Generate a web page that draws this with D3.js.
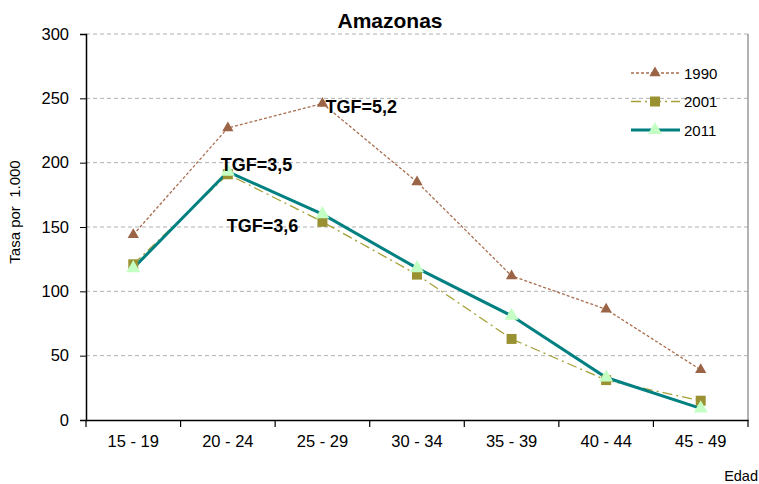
<!DOCTYPE html>
<html><head><meta charset="utf-8">
<script src="https://cdn.jsdelivr.net/npm/d3@7"></script>
<style>body{margin:0;background:#fff}text{font-family:Arial,"Liberation Sans",sans-serif}</style>
</head><body><svg id="c" width="759" height="484"></svg>
<script>
const categories = ["15 - 19","20 - 24","25 - 29","30 - 34","35 - 39","40 - 44","45 - 49"];
const s1990 = [144, 227, 246, 185, 112, 86, 39];
const s2001 = [121, 191, 154, 113, 63, 31, 15];
const s2011 = [118, 193, 160, 118, 81, 33, 9];
const yTicks = [0, 50, 100, 150, 200, 250, 300];
const annotations = [
  {text:"TGF=5,2", cat:"25 - 29", v:246, dx:3, dy:10},
  {text:"TGF=3,5", cat:"20 - 24", v:193, dx:-7, dy:-1},
  {text:"TGF=3,6", cat:"20 - 24", v:145, dx:-1, dy:-1}
];

const svg = d3.select("#c");
const L=86, R=748, T=34, B=420;
const x = d3.scaleBand().domain(categories).range([L,R]);
const y = d3.scaleLinear().domain([0,300]).range([B,T]);
const cx = d => x(d)+x.bandwidth()/2;

// gridlines
svg.append("g").selectAll("line").data(yTicks.filter(d=>d>0)).join("line")
  .attr("x1",L).attr("x2",R).attr("y1",d=>y(d)).attr("y2",d=>y(d))
  .attr("stroke","#b0b0b0").attr("stroke-dasharray","4,3").attr("stroke-width",1);
// right border
svg.append("line").attr("x1",R).attr("x2",R).attr("y1",T).attr("y2",B).attr("stroke","#999").attr("stroke-width",1.5);

// axes
const ya = svg.append("g").attr("transform",`translate(${L},0)`)
  .call(d3.axisLeft(y).tickValues(yTicks).tickSize(6).tickPadding(11));
ya.selectAll("text").attr("font-size","16.5px").attr("fill","#000");
ya.select(".domain").attr("stroke","#000").attr("stroke-width",1.5);
const xa = svg.append("g").attr("transform",`translate(0,${B})`)
  .call(d3.axisBottom(x).tickSize(0).tickPadding(15));
xa.selectAll("text").attr("font-size","16.5px").attr("fill","#000");
xa.select(".domain").attr("stroke","#000").attr("stroke-width",1.5);
xa.append("g").selectAll("line").data(d3.range(categories.length+1)).join("line")
  .attr("x1",i=>L+i*x.bandwidth()).attr("x2",i=>L+i*x.bandwidth()).attr("y1",0).attr("y2",7)
  .attr("stroke","#000").attr("stroke-width",1.2);

const line = d3.line().x((d,i)=>cx(categories[i])).y(d=>y(d));
const triS = d3.symbol().type(d3.symbolTriangle).size(55)();
const triL = d3.symbol().type(d3.symbolTriangle).size(85)();
const sq = d3.symbol().type(d3.symbolSquare).size(100)();

const series = [
  {name:"1990", data:s1990, stroke:"#A86E4E", w:1.3, dash:"3,2", marker:triS, mfill:"#9C6446"},
  {name:"2001", data:s2001, stroke:"#A4A036", w:1.3, dash:"10,4,2,4", marker:sq, mfill:"#9A9232"},
  {name:"2011", data:s2011, stroke:"#008080", w:3, dash:null, marker:triL, mfill:"#C4FFC4"}
];
series.forEach(s=>{
  svg.append("path").datum(s.data).attr("d",line).attr("fill","none")
    .attr("stroke",s.stroke).attr("stroke-width",s.w).attr("stroke-dasharray",s.dash);
});
series.forEach(s=>{
  svg.append("g").selectAll("path").data(s.data).join("path")
    .attr("d",s.marker).attr("fill",s.mfill)
    .attr("transform",(d,i)=>`translate(${cx(categories[i])},${y(d)})`);
});

// legend
series.forEach((s,i)=>{
  const ly = 73 + i*28.5;
  svg.append("line").attr("x1",631).attr("x2",680).attr("y1",ly).attr("y2",ly)
    .attr("stroke",s.stroke).attr("stroke-width",s.w).attr("stroke-dasharray",s.dash);
  svg.append("path").attr("d",s.marker).attr("fill",s.mfill).attr("transform",`translate(655,${ly})`);
  svg.append("text").attr("x",684).attr("y",ly+5.5).attr("font-size","15px").text(s.name);
});

// annotations
annotations.forEach(a=>{
  svg.append("text").attr("x",cx(a.cat)+a.dx).attr("y",y(a.v)+a.dy)
    .attr("font-size","18px").attr("font-weight","bold").text(a.text);
});

svg.append("text").attr("x",390).attr("y",28).attr("text-anchor","middle")
  .attr("font-size","21px").attr("font-weight","bold").text("Amazonas");
svg.append("text").attr("transform","translate(20,212) rotate(-90)").attr("text-anchor","middle")
  .attr("font-size","15px").attr("xml:space","preserve").text("Tasa por  1.000");
svg.append("text").attr("x",758).attr("y",481).attr("text-anchor","end").attr("font-size","14.5px").text("Edad");
</script></body></html>
